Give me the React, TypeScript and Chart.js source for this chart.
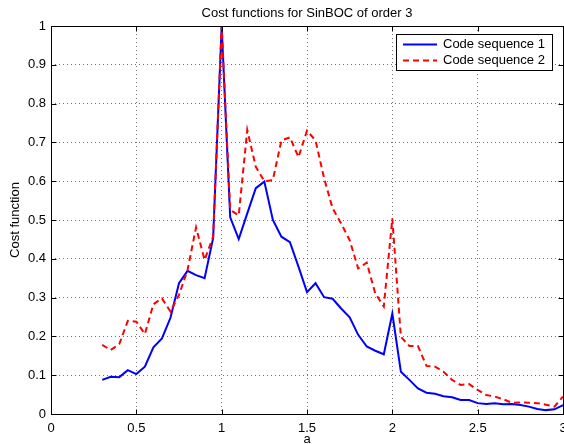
import React, { useEffect, useRef } from "react";
import { Chart, registerables } from "chart.js";

Chart.register(...registerables);

const xValues = [
  0.3, 0.35, 0.4, 0.45, 0.5, 0.55, 0.6, 0.65, 0.7, 0.75, 0.8, 0.85, 0.9, 0.95,
  1.0, 1.05, 1.1, 1.15, 1.2, 1.25, 1.3, 1.35, 1.4, 1.45, 1.5, 1.55, 1.6, 1.65,
  1.7, 1.75, 1.8, 1.85, 1.9, 1.95, 2.0, 2.05, 2.1, 2.15, 2.2, 2.25, 2.3, 2.35,
  2.4, 2.45, 2.5, 2.55, 2.6, 2.65, 2.7, 2.75, 2.8, 2.85, 2.9, 2.95, 3.0,
];

const codeSequence1 = [
  0.088, 0.096, 0.095, 0.113, 0.103, 0.122, 0.172, 0.195, 0.248, 0.337, 0.369,
  0.358, 0.35, 0.453, 1.0, 0.507, 0.451, 0.517, 0.582, 0.599, 0.5, 0.457,
  0.443, 0.38, 0.314, 0.337, 0.301, 0.297, 0.272, 0.249, 0.204, 0.174, 0.163,
  0.154, 0.259, 0.109, 0.088, 0.066, 0.055, 0.052, 0.046, 0.043, 0.036, 0.036,
  0.028, 0.026, 0.028, 0.025, 0.026, 0.023, 0.019, 0.013, 0.01, 0.012, 0.023,
];

const codeSequence2 = [
  0.178, 0.165, 0.18, 0.24, 0.238, 0.206, 0.283, 0.298, 0.264, 0.307, 0.371,
  0.481, 0.397, 0.457, 1.0, 0.526, 0.512, 0.732, 0.637, 0.6, 0.603, 0.705,
  0.713, 0.662, 0.73, 0.705, 0.608, 0.53, 0.491, 0.448, 0.375, 0.39, 0.311,
  0.277, 0.504, 0.199, 0.175, 0.175, 0.124, 0.122, 0.109, 0.088, 0.075, 0.077,
  0.062, 0.049, 0.045, 0.038, 0.029, 0.03, 0.029, 0.028, 0.024, 0.019, 0.045,
];

const xTicks = [0, 0.5, 1, 1.5, 2, 2.5, 3];
const yTicks = [0, 0.1, 0.2, 0.3, 0.4, 0.5, 0.6, 0.7, 0.8, 0.9, 1];

const seriesLabels = ["Code sequence 1", "Code sequence 2"];
const titleText = "Cost functions for SinBOC of order 3";
const xTitle = "a";
const yTitle = "Cost function";

const FONT = "'Liberation Sans', Arial, Helvetica, sans-serif";
const FS = 13;

const matlabFrame = {
  id: "matlabFrame",
  afterDraw(chart: any) {
    const { ctx, chartArea, scales } = chart;
    const { left, right, top, bottom } = chartArea;
    const xs = scales.x;
    const ys = scales.y;
    ctx.save();
    // axes box
    ctx.strokeStyle = "#000";
    ctx.lineWidth = 1;
    ctx.setLineDash([]);
    const L = Math.round(left) + 0.5;
    const R = Math.round(right) + 0.5;
    const T = Math.round(top) + 0.5;
    const B = Math.round(bottom) + 0.5;
    ctx.beginPath();
    ctx.moveTo(L, T);
    ctx.lineTo(R, T);
    ctx.lineTo(R, B);
    ctx.lineTo(L, B);
    ctx.closePath();
    ctx.stroke();
    // inward ticks
    const tl = 5;
    ctx.beginPath();
    xTicks.forEach((v) => {
      const px = Math.round(xs.getPixelForValue(v)) + 0.5;
      ctx.moveTo(px, B);
      ctx.lineTo(px, B - tl);
      ctx.moveTo(px, T);
      ctx.lineTo(px, T + tl);
    });
    yTicks.forEach((v) => {
      const py = Math.round(ys.getPixelForValue(v)) + 0.5;
      ctx.moveTo(L, py);
      ctx.lineTo(L + tl, py);
      ctx.moveTo(R, py);
      ctx.lineTo(R - tl, py);
    });
    ctx.stroke();

    // title
    ctx.fillStyle = "#000";
    ctx.font = `${FS}px ${FONT}`;
    ctx.textAlign = "center";
    ctx.textBaseline = "middle";
    ctx.fillText(titleText, (left + right) / 2, 13);

    // legend
    const bx = 396.5;
    const by = 34.5;
    const bw = 156;
    const bh = 36;
    ctx.fillStyle = "#fff";
    ctx.fillRect(bx, by, bw, bh);
    ctx.strokeStyle = "#000";
    ctx.lineWidth = 1;
    ctx.strokeRect(bx, by, bw, bh);
    const rows = [44.5, 60.5];
    chart.data.datasets.forEach((ds: any, i: number) => {
      const ry = rows[i];
      ctx.save();
      ctx.strokeStyle = ds.borderColor;
      ctx.lineWidth = ds.borderWidth;
      ctx.setLineDash(ds.borderDash || []);
      ctx.beginPath();
      ctx.moveTo(403, ry);
      ctx.lineTo(437, ry);
      ctx.stroke();
      ctx.restore();
      ctx.fillStyle = "#000";
      ctx.font = `${FS}px ${FONT}`;
      ctx.textAlign = "left";
      ctx.textBaseline = "middle";
      ctx.fillText(ds.label, 443, ry);
    });
    ctx.restore();
  },
};

export default function App() {
  const canvasRef = useRef<HTMLCanvasElement | null>(null);

  useEffect(() => {
    if (!canvasRef.current) return;
    const toPoints = (vals: number[]) =>
      vals.map((v, i) => ({ x: xValues[i], y: v }));
    const chart = new Chart(canvasRef.current, {
      type: "line",
      data: {
        datasets: [
          {
            label: seriesLabels[0],
            data: toPoints(codeSequence1),
            borderColor: "#0000ff",
            backgroundColor: "#0000ff",
            borderWidth: 2,
            pointRadius: 0,
            tension: 0,
            fill: false,
            order: 2,
          },
          {
            label: seriesLabels[1],
            data: toPoints(codeSequence2),
            borderColor: "#ff0000",
            backgroundColor: "#ff0000",
            borderWidth: 2,
            borderDash: [6, 4],
            pointRadius: 0,
            tension: 0,
            fill: false,
            order: 1,
          },
        ],
      },
      options: {
        animation: false,
        responsive: false,
        maintainAspectRatio: false,
        devicePixelRatio: 1,
        layout: { padding: { top: 26, right: 1, left: 0, bottom: 0 } },
        plugins: {
          legend: { display: false },
          title: { display: false },
          tooltip: { enabled: false },
        },
        scales: {
          x: {
            type: "linear",
            min: 0,
            max: 3,
            afterBuildTicks: (s: any) => {
              s.ticks = xTicks.map((v) => ({ value: v }));
            },
            afterFit: (s: any) => {
              s.height = 30;
              s.paddingLeft = 0;
              s.paddingRight = 0;
            },
            ticks: {
              autoSkip: false,
              maxRotation: 0,
              padding: 7,
              color: "#000",
              font: { family: FONT, size: FS },
              callback: (v: any) => String(v),
            },
            grid: {
              color: "rgba(0,0,0,0.55)",
              lineWidth: 1,
              drawTicks: false,
            },
            border: { display: false, dash: [1, 3] },
            title: {
              display: true,
              text: xTitle,
              color: "#000",
              font: { family: FONT, size: FS },
              padding: { top: 0, bottom: -3 },
            },
          },
          y: {
            type: "linear",
            min: 0,
            max: 1,
            afterBuildTicks: (s: any) => {
              s.ticks = yTicks.map((v) => ({ value: v }));
            },
            afterFit: (s: any) => {
              s.width = 51;
              s.paddingTop = 0;
              s.paddingBottom = 0;
            },
            ticks: {
              autoSkip: false,
              padding: 5,
              color: "#000",
              font: { family: FONT, size: FS },
              callback: (v: any) => String(v),
            },
            grid: {
              color: "rgba(0,0,0,0.55)",
              lineWidth: 1,
              drawTicks: false,
            },
            border: { display: false, dash: [1, 3] },
            title: {
              display: true,
              text: yTitle,
              color: "#000",
              font: { family: FONT, size: FS },
              padding: { top: 8, bottom: 0 },
            },
          },
        },
      },
      plugins: [matlabFrame],
    });
    return () => chart.destroy();
  }, []);

  return (
    <div
      style={{
        position: "absolute",
        left: 0,
        top: 0,
        width: 564,
        height: 444,
        background: "#fff",
      }}
    >
      <canvas ref={canvasRef} width={564} height={444} />
    </div>
  );
}
